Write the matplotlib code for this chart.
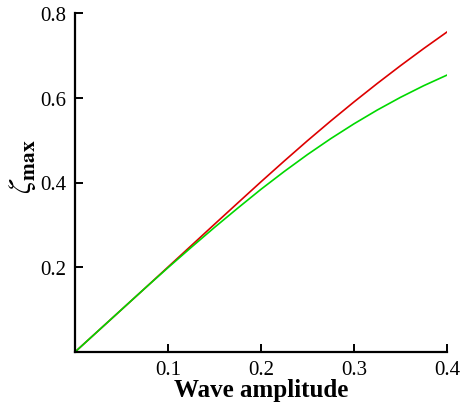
import matplotlib
matplotlib.use("Agg")
import matplotlib.pyplot as plt

amplitude = [0.0, 0.025, 0.05, 0.075, 0.1, 0.125, 0.15, 0.175, 0.2,
             0.225, 0.25, 0.275, 0.3, 0.325, 0.35, 0.375, 0.4]
zeta_red = [0.0, 0.05, 0.1, 0.15, 0.2005, 0.251, 0.3015, 0.3517, 0.4017,
            0.4507, 0.4987, 0.5452, 0.5902, 0.6337, 0.6757, 0.7162, 0.7552]
zeta_green = [0.0, 0.05, 0.1, 0.15, 0.199, 0.247, 0.294, 0.3395, 0.384,
              0.426, 0.466, 0.5035, 0.5385, 0.571, 0.601, 0.6285, 0.6535]
xticks = [0.1, 0.2, 0.3, 0.4]
yticks = [0.2, 0.4, 0.6, 0.8]

plt.rcParams['font.family'] = ['Liberation Serif', 'DejaVu Serif']
plt.rcParams['mathtext.fontset'] = 'stix'

fig = plt.figure(figsize=(4.69, 4.06), dpi=100)
ax = fig.add_axes([75/469, 53/406, 372/469, 339/406])

ax.plot(amplitude, zeta_red, color='#dd0000', lw=1.2)
ax.plot(amplitude, zeta_green, color='#00d800', lw=1.2)

ax.set_xlim(0, 0.4)
ax.set_ylim(0, 0.8)
ax.set_xticks(xticks)
ax.set_yticks(yticks)
ax.set_xticklabels([f"{v:.1f}" for v in xticks])
ax.set_yticklabels([f"{v:.1f}" for v in yticks])

for s in ['top', 'right']:
    ax.spines[s].set_visible(False)
for s in ['left', 'bottom']:
    ax.spines[s].set_linewidth(1.6)

ax.tick_params(direction='in', length=6, width=1.4, labelsize=15)
ax.tick_params(axis='x', pad=6)
ax.tick_params(axis='y', pad=6)

ax.set_xlabel('Wave amplitude', fontsize=18, fontweight='bold', labelpad=-1)
ax.set_ylabel(r'$\zeta_{\mathbf{max}}$', fontsize=22)
ax.yaxis.set_label_coords(-0.10, 0.55)

fig.savefig('out.png', dpi=100)
